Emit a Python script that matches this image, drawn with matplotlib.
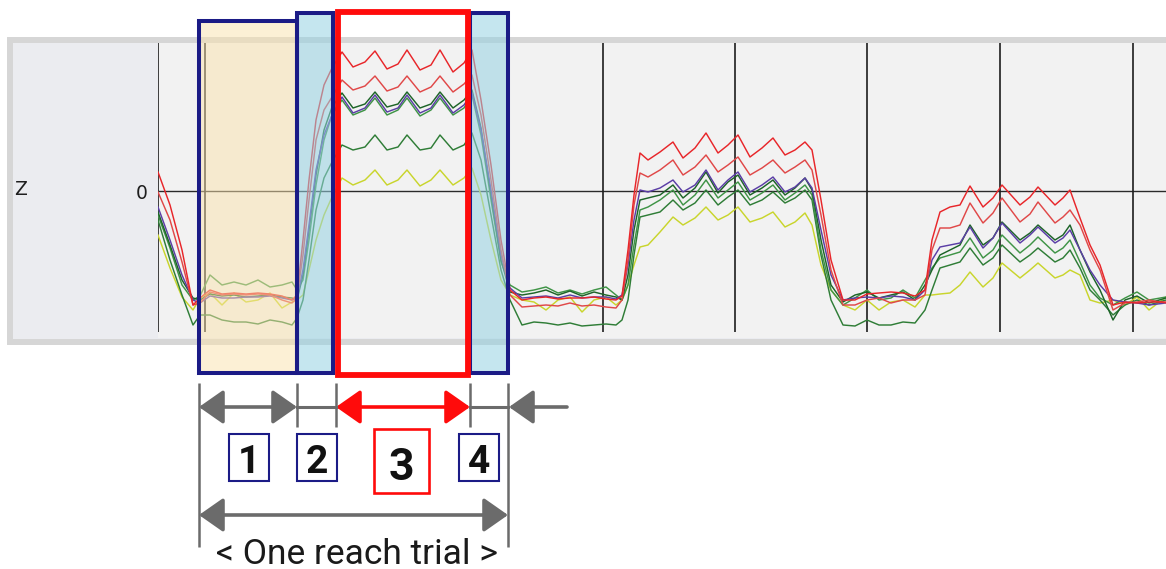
import matplotlib
matplotlib.use("Agg")
import matplotlib.pyplot as plt
from matplotlib.patches import Rectangle, FancyArrowPatch
from matplotlib.transforms import blended_transform_factory

# Z trace of the hand marker over three reach trials (frames, Z in mm)
frame = [0, 12, 24, 35, 42,
         52, 64, 76, 88, 100, 112, 124, 134, 139,
         145, 151, 158, 166, 174,
         184, 195, 207, 217, 229, 240, 249, 262, 273, 282, 295, 306, 314,
         323, 333, 343, 352,
         364, 376, 388, 400, 412, 424, 436, 448, 458, 464,
         470, 476, 482,
         490, 502, 515, 525, 537, 548, 560, 570, 580, 592, 604, 615, 627, 637, 647, 654,
         663, 673, 685,
         697, 709, 721, 733, 745, 757, 767,
         774, 782,
         792, 802, 812, 825, 835, 844, 862, 872, 880, 897, 905, 912,
         922, 932, 942, 955,
         967, 979, 991, 1008]

z_red_top = [19, -14, -59, -114, -107,
             -99, -103, -102, -103, -102, -103, -105, -109, -104,
             -49, 11, 71, 106, 123,
             139, 124, 129, 140, 122, 127, 141, 121, 126, 141, 119, 128, 141,
             91, 26, -49, -99,
             -109, -107, -106, -108, -107, -107, -106, -108, -109, -105,
             -59, -4, 38,
             31, 39, 49, 33, 43, 58, 38, 46, 56, 34, 43, 53, 36, 41, 49, 41,
             -9, -69, -109,
             -109, -103, -102, -101, -102, -105, -99,
             -49, -21,
             -16, -14, 5, -16, -7, 6, -14, -6, 4, -14, -7, 1,
             -27, -54, -74, -114,
             -111, -112, -111, -111]

z_red_low = [-1, -29, -71, -114, -112,
             -101, -104, -103, -104, -103, -104, -109, -112, -107,
             -64, -9, 51, 81, 94,
             111, 101, 105, 115, 100, 104, 115, 99, 104, 115, 99, 107, 116,
             76, 11, -59, -104,
             -116, -115, -114, -115, -112, -115, -114, -116, -117, -109,
             -69, -14, 18,
             14, 21, 31, 16, 24, 36, 19, 26, 34, 16, 23, 31, 18, 24, 31, 21,
             -24, -79, -114,
             -114, -109, -107, -112, -109, -109, -104,
             -59, -37,
             -37, -34, -12, -32, -22, -7, -31, -23, -11, -32, -26, -19,
             -34, -59, -79, -119,
             -112, -111, -109, -112]

z_purple = [-16, -49, -84, -109, -112,
            -105, -107, -107, -106, -106, -105, -107, -109, -107,
            -79, -34, 21, 56, 76,
            94, 78, 83, 96, 79, 83, 96, 78, 83, 96, 78, 86, 98,
            61, 1, -64, -97,
            -107, -106, -105, -107, -104, -107, -106, -106, -108, -104,
            -74, -29, 1,
            -1, 3, 11, -1, 6, 21, 1, 11, 19, -1, 6, 14, -1, 4, 13, 3,
            -39, -84, -109,
            -107, -106, -107, -105, -106, -109, -99,
            -69, -56,
            -54, -52, -36, -57, -47, -32, -52, -44, -36, -52, -47, -39,
            -59, -79, -94, -109,
            -111, -112, -114, -112]

z_green_dark = [-21, -54, -89, -107, -109,
                -103, -105, -104, -106, -105, -104, -106, -107, -109,
                -84, -39, 16, 61, 84,
                98, 83, 87, 99, 84, 87, 99, 83, 87, 99, 83, 91, 101,
                63, -4, -69, -101,
                -104, -102, -99, -104, -100, -105, -101, -104, -106, -109,
                -84, -39, -9,
                -7, -4, 6, -7, 3, 19, -2, 9, 16, -4, 3, 11, -4, 3, 13, 1,
                -49, -94, -111,
                -104, -101, -107, -104, -101, -109, -94,
                -79, -64,
                -59, -54, -34, -54, -47, -31, -49, -42, -34, -49, -44, -34,
                -59, -81, -99, -129,
                -109, -105, -112, -107]

z_green_mid = [-24, -57, -94, -109, -105,
               -84, -94, -91, -94, -89, -96, -94, -91, -99,
               -89, -49, 6, 51, 76,
               91, 76, 81, 93, 76, 81, 93, 75, 81, 93, 76, 83, 96,
               56, -9, -71, -94,
               -101, -99, -96, -102, -99, -103, -99, -96, -104, -109,
               -94, -54, -19,
               -16, -9, 1, -14, -4, 11, -7, 1, 9, -9, -2, 6, -9, -2, 6, -4,
               -59, -99, -114,
               -107, -99, -109, -107, -99, -107, -89,
               -77, -67,
               -64, -61, -47, -67, -59, -44, -62, -54, -46, -62, -57, -49,
               -71, -94, -107, -114,
               -107, -101, -109, -106]

z_green_low = [-29, -69, -104, -134, -124,
               -124, -129, -131, -131, -133, -129, -131, -134, -127,
               -109, -69, -19, 13, 29,
               46, 41, 44, 56, 41, 44, 56, 41, 43, 56, 41, 46, 58,
               31, -24, -79, -109,
               -134, -131, -132, -134, -132, -135, -134, -133, -134, -129,
               -109, -64, -26,
               -24, -21, -9, -19, -12, 1, -14, -6, 1, -14, -9, -1, -12, -7, 1, -9,
               -64, -109, -134,
               -135, -129, -134, -134, -131, -132, -119,
               -99, -77,
               -74, -71, -57, -74, -67, -54, -71, -64, -57, -71, -67, -59,
               -77, -99, -109, -124,
               -114, -109, -114, -109]

z_yellow = [-44, -77, -106, -119, -107,
            -102, -114, -102, -111, -109, -102, -117, -111, -109,
            -104, -79, -49, -24, -6,
            13, 6, 11, 21, 6, 11, 21, 5, 11, 21, 6, 13, 23,
            -4, -49, -89, -104,
            -109, -111, -119, -109, -106, -121, -109, -106, -114, -109,
            -94, -74, -56,
            -54, -41, -26, -34, -27, -16, -29, -24, -16, -31, -27, -21, -36, -31, -22, -34,
            -74, -99, -114,
            -119, -109, -119, -111, -109, -116, -104,
            -104, -103,
            -102, -94, -81, -96, -87, -72, -87, -79, -72, -87, -84, -79,
            -84, -109, -112, -109,
            -114, -106, -119, -106]

grid_frames = [47, 180, 312, 445, 577, 709, 842, 975]
# phase borders of the first trial: rest | lift | hold | return
phase_edges = [41, 139, 178, 312, 350]
phase_labels = ["1", "2", "3", "4"]
trial_label = "< One reach trial >"

W, H = 1166, 569
fig = plt.figure(figsize=(W / 100, H / 100), dpi=100)

# panel frame and label strip
bg = fig.add_axes([0, 0, 1, 1], zorder=0)
bg.set_xlim(0, W)
bg.set_ylim(H, 0)
bg.axis("off")
bg.add_patch(Rectangle((9.5, 40), W, 302, fc="#ebecf0", ec="#d6d6d6", lw=4.3))
bg.text(21, 195, "Z", fontsize=13.5, color="#1e1e1e", ha="center", va="baseline")
bg.text(148, 199, "0", fontsize=13.5, color="#1e1e1e", ha="right", va="baseline")

# signal area
ax = fig.add_axes([158 / W, (H - 338) / H, (W - 158) / W, 295 / H], zorder=1)
ax.set_facecolor("#f2f2f2")
ax.set_xlim(0, 1008)
ax.set_ylim(-147, 148)
for s in ax.spines.values():
    s.set_visible(False)
ax.set_xticks([])
ax.set_yticks([])

ax.axhline(0, color="#2b2b2b", lw=1.0)
ax.vlines([0] + grid_frames, -141, 148, color="#1e1e1e", lw=1.2)

traces = [
    (z_yellow, "#c9d52c"),
    (z_green_low, "#2f7d37"),
    (z_green_mid, "#3f9446"),
    (z_green_dark, "#1d6428"),
    (z_purple, "#5b3ea6"),
    (z_red_low, "#e04848"),
    (z_red_top, "#e8262a"),
]
for z, c in traces:
    ax.plot(frame, z, color=c, lw=1.05)

# overlay: phase boxes and annotations
ov = fig.add_axes([0, 0, 1, 1], zorder=2)
ov.set_xlim(0, W)
ov.set_ylim(H, 0)
ov.axis("off")
ov.patch.set_alpha(0)
tr = blended_transform_factory(ax.transData, ov.transData)

navy = "#1b1b86"
red = "#ff0b0b"
grey = "#6b6b6b"
e0, e1, e2, e3, e4 = phase_edges

ov.add_patch(Rectangle((e0, 21), e1 - e0, 352, transform=tr,
                       fc="#fbe3ad", alpha=0.5, lw=0))
for a, b in [(e1, e2 - 3), (e3, e4)]:
    ov.add_patch(Rectangle((a, 13), b - a, 360, transform=tr,
                           fc="#96d2e2", alpha=0.55, lw=0))

ov.add_patch(Rectangle((e0, 21), e1 - e0, 352, transform=tr,
                       fill=False, ec=navy, lw=2.9))
for a, b in [(e1, e2 - 3), (e3, e4)]:
    ov.add_patch(Rectangle((a, 13), b - a, 360, transform=tr,
                           fill=False, ec=navy, lw=2.9))
ov.add_patch(Rectangle((e2 + 1.5, 11.5), e3 - e2 - 4, 363, transform=tr,
                       fill=False, ec=red, lw=4.2))

# dimension ticks under the panel
for x in phase_edges:
    y_end = 547 if x in (e0, e4) else 427
    ov.plot([x, x], [383, y_end], color=grey, lw=1.8, transform=tr,
            solid_capstyle="butt")

def arrow(x0, x1, y, style, color):
    ov.add_patch(FancyArrowPatch((x0, y), (x1, y), transform=tr,
                                 arrowstyle=style + ",head_length=15,head_width=10.5",
                                 mutation_scale=1, color=color, lw=2.6,
                                 shrinkA=0, shrinkB=0))

arrow(e0, e1, 407, "<|-|>", grey)
ov.plot([e1, e2], [407, 407], color=grey, lw=2.2, transform=tr)
arrow(e2, e3, 407, "<|-|>", red)
ov.plot([e3, e4], [407, 407], color=grey, lw=2.2, transform=tr)
arrow(e4 + 59, e4 + 1, 407, "-|>", grey)
arrow(e0, e4, 515, "<|-|>", grey)

# numbered phase boxes
boxes = [(229, 434, 40, 47), (297, 434, 40, 47), (374, 429, 55, 64), (459, 434, 40, 47)]
for (x, y, w, h), lab in zip(boxes, phase_labels):
    c = red if lab == "3" else navy
    ov.add_patch(Rectangle((x, y), w, h, fc="white", ec=c,
                           lw=1.9 if lab == "3" else 1.5))
    fs = 32 if lab == "3" else 28
    ov.text(x + w / 2, y + h - (13 if lab == "3" else 8), lab, family="Roboto",
            weight="bold", fontsize=fs, ha="center", va="baseline", color="#111111")

ov.text(357, 564, trial_label, family="Roboto", fontsize=25.5, ha="center",
        va="baseline", color="#1a1a1a")

fig.savefig("out.png", dpi=100)
